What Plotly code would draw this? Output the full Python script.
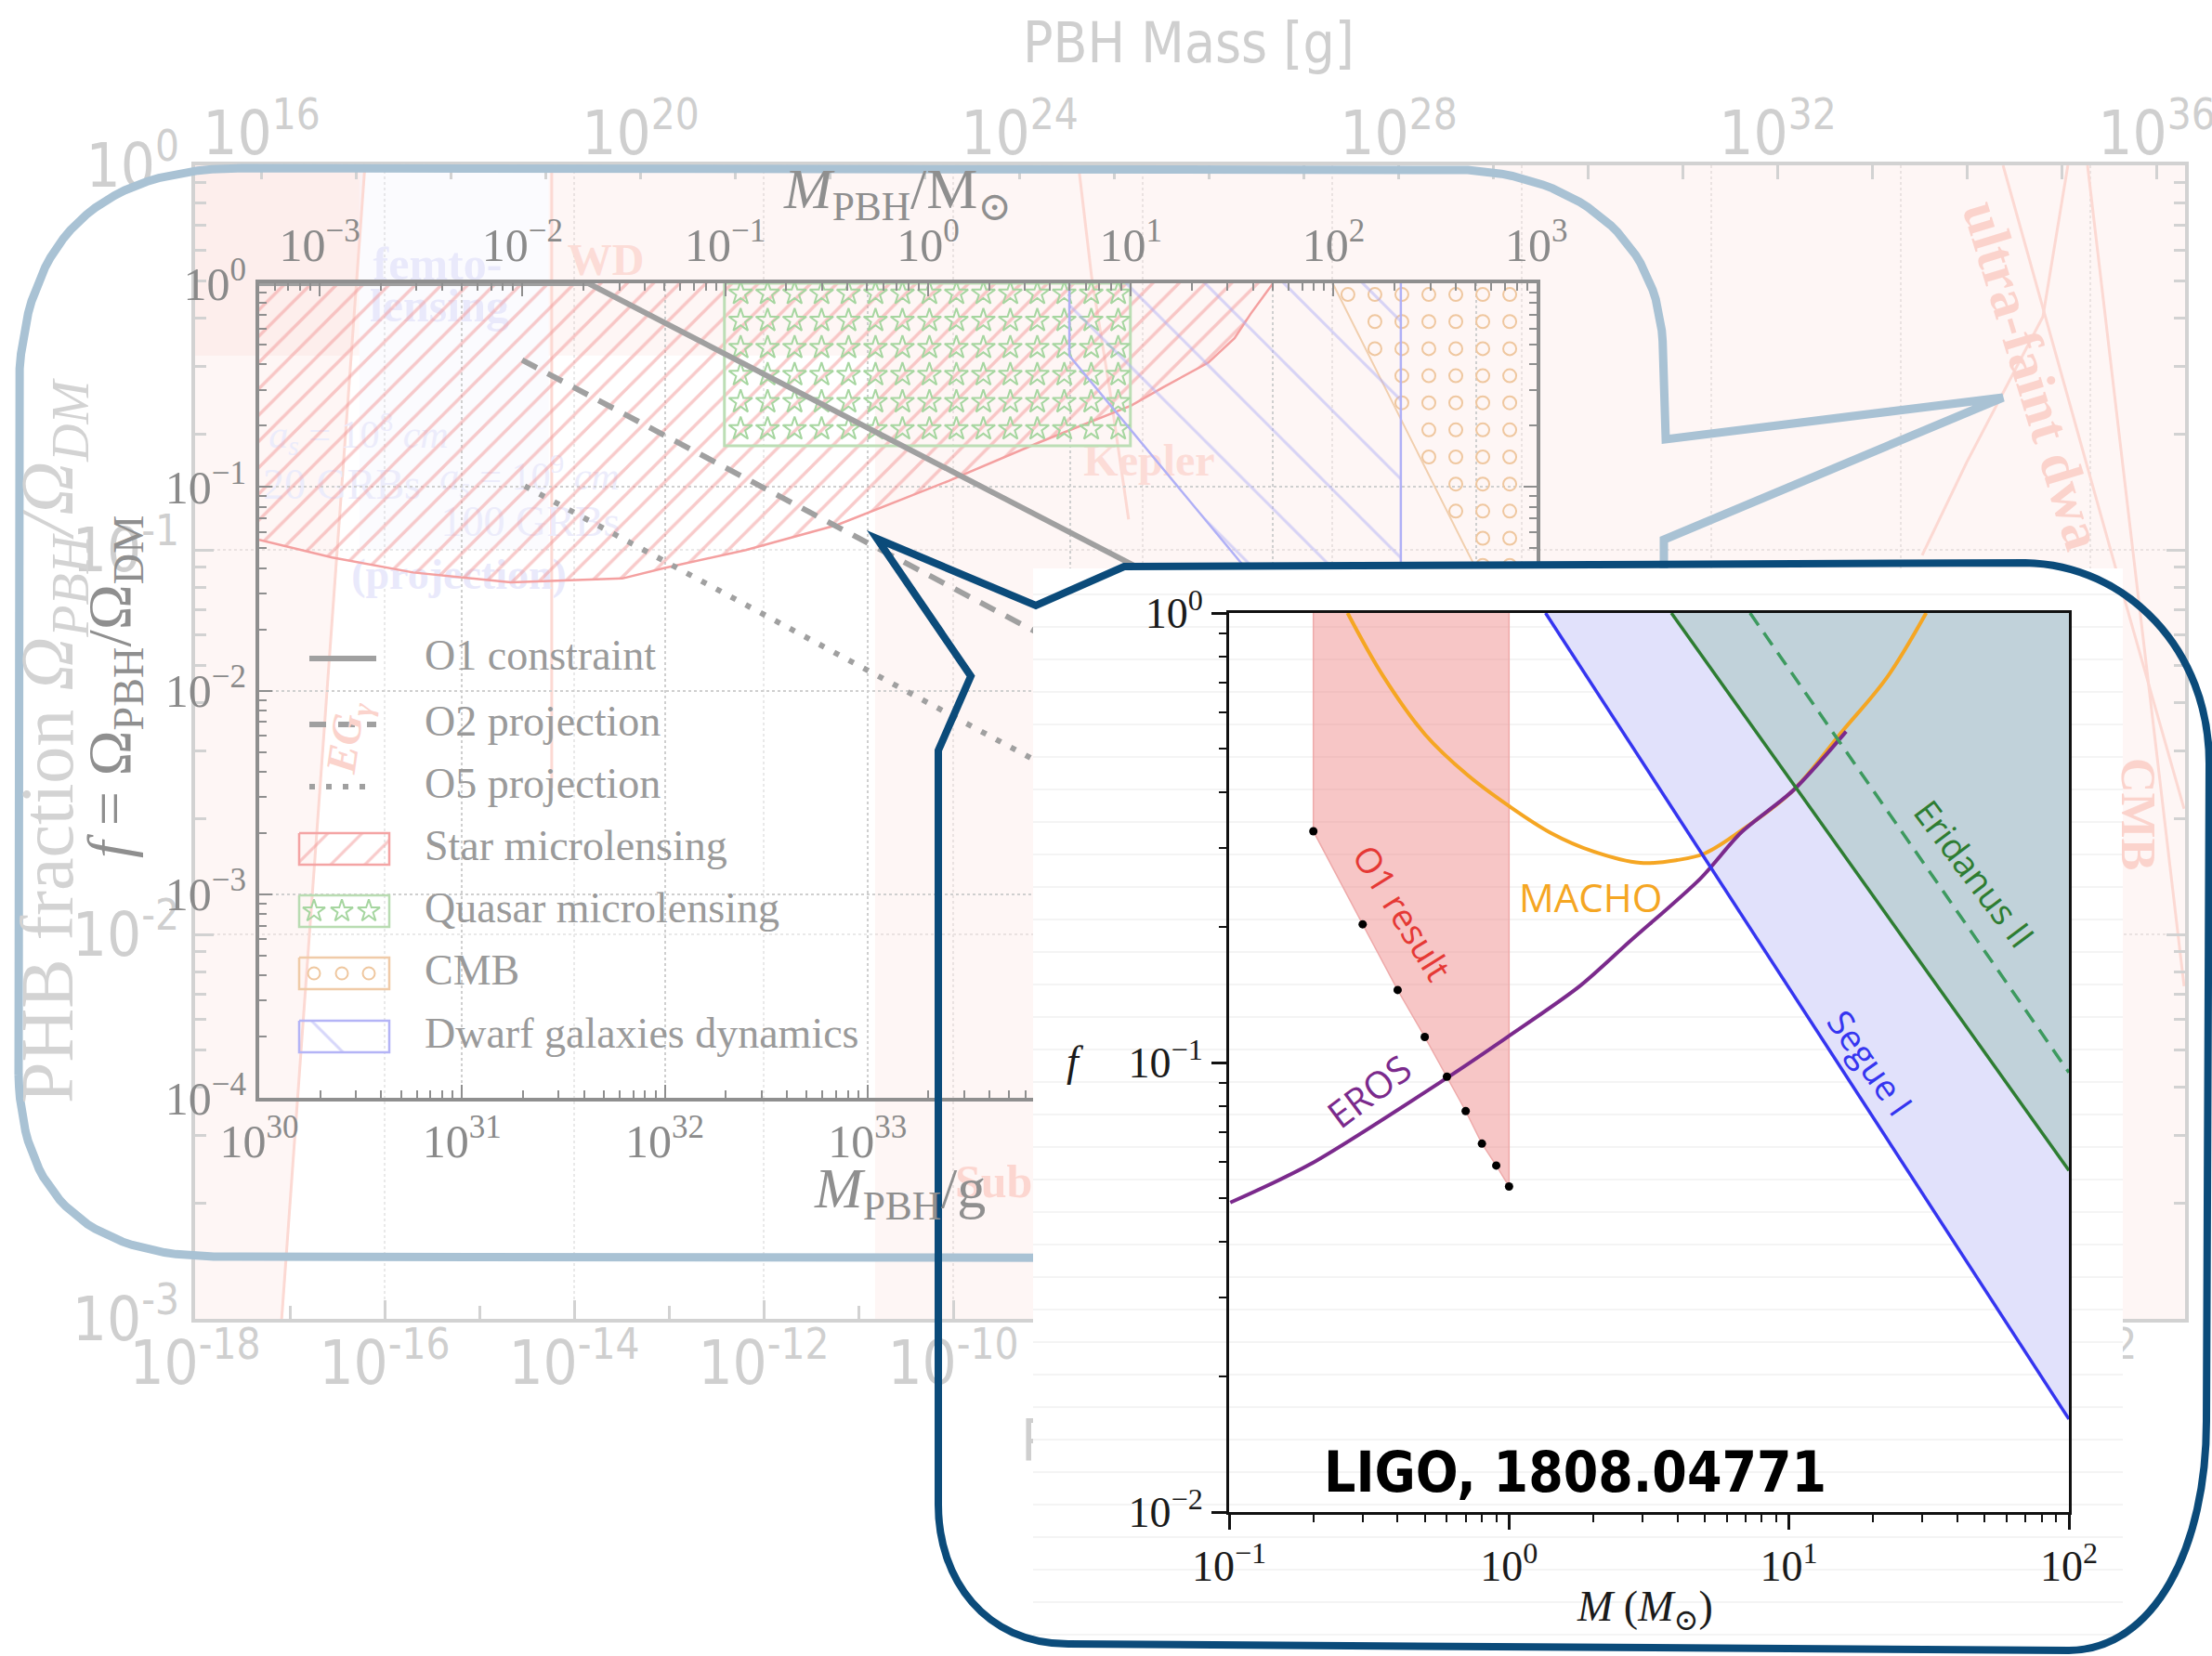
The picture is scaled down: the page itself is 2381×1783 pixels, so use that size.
import numpy as np
import plotly.graph_objects as go

W, H = 2381, 1783
LOG_MSUN_G = np.log10(1.989e33)

NARROW = "Liberation Sans Narrow, Arial Narrow, DejaVu Sans Condensed, sans-serif"
SERIF = "Liberation Serif, Times New Roman, DejaVu Serif, serif"
SANS = "Open Sans, DejaVu Sans, sans-serif"

# ================= background chart (PBH fraction vs PBH mass) =================
bg_mass_label_exp = [-18, -16, -14, -12, -10, -8, -6, -4, -2, 0, 2]
bg_mass_minor_exp = [-17, -15, -13, -11, -9, -7, -5, -3, -1, 1, 3]
bg_gram_tick_exp = list(range(16, 37))
bg_gram_label_exp = [16, 20, 24, 28, 32, 36]
bg_frac_exp = [-3, -2, -1, 0]

bg_pink_m = [1e-18, 5.4e-17, 5.4e-17, 5.4e-15, 5.4e-15, 1e3, 1e3, 1.5e-11, 1.5e-11, 1e-18]
bg_pink_f = [1.0, 1.0, 0.32, 0.32, 1.0, 1.0, 1e-3, 1e-3, 0.32, 0.32]
bg_femto_m = [5.4e-17, 5.4e-15, 5.4e-15, 5.4e-17]
bg_femto_f = [1.0, 1.0, 0.1, 0.1]
bg_egamma_m = [1e-18, 6.2e-17, 8.2e-18, 1e-18]
bg_egamma_f = [1.0, 1.0, 1e-3, 1e-3]
bg_wd_m = [5.8e-15, 5.8e-15]
bg_wd_f = [1.0, 0.024]
bg_kepler_m = [2.1e-9, 2.9e-9, 4.5e-9, 7.1e-9]
bg_kepler_f = [1.0, 0.51, 0.26, 0.12]
bg_ufd1_m = [12.0, 188.0, 977.0]
bg_ufd1_f = [1.0, 0.0885, 0.0212]
bg_ufd2_m = [58.0, 31.6, 4.97, 1.68]
bg_ufd2_f = [1.0, 0.404, 0.169, 0.0968]
bg_ufd3_m = [93.5, 977.0]
bg_ufd3_f = [1.0, 0.00733]

# ================= middle chart (LVK projections) =================
mid_gram_exp = list(range(30, 37))
mid_msun_exp = list(range(-3, 4))
mid_frac_exp = list(range(-4, 1))
star_lens_mass_g = [1e30, 2.29e30, 5.75e30, 1.74e31, 6.17e31, 1.0e32, 2.51e32, 7.08e32,
                    2.51e33, 7.08e33, 2.0e34, 2.88e34, 4.79e34, 6.46e34, 7.76e34, 1.0e35]
star_lens_f = [0.055, 0.045, 0.038, 0.034, 0.0355, 0.040, 0.049, 0.065,
               0.107, 0.166, 0.251, 0.309, 0.407, 0.537, 0.708, 1.0]
quasar_mass_g = [1.97e32, 1.98e34]
quasar_f = [0.159, 1.0]
cmb_mass_g = [1.97e35, 9.0e35, 2.0e36]
cmb_f = [1.0, 0.049, 0.0105]
dwarf_mass_g = [9.9e33, 9.9e33, 4.27e35, 4.27e35]
dwarf_f = [1.0, 0.44, 0.0048, 1.0]
o1_mass_g = [1.0e30, 4.2e31, 1.98e34, 1.3e35]
o1_f = [1.0, 1.0, 0.042, 0.016]
o2_mass_g = [1.98e31, 6.6e32, 1.0e35]
o2_f = [0.42, 0.066, 0.0047]
o5_mass_g = [2.04e31, 5.75e33, 1.0e35]
o5_f = [0.101, 0.0049, 0.00107]
legend_labels = ["O1 constraint", "O2 projection", "O5 projection", "Star microlensing",
                 "Quasar microlensing", "CMB", "Dwarf galaxies dynamics"]

# ================= front chart (LIGO, 1808.04771) =================
front_mass_exp = [-1, 0, 1, 2]
front_frac_exp = [-2, -1, 0]
o1_result_m = [0.2, 0.3, 0.4, 0.5, 0.6, 0.7, 0.8, 0.9, 1.0]
o1_result_f = [0.327, 0.203, 0.145, 0.114, 0.093, 0.078, 0.066, 0.059, 0.053]
macho_m = [0.265, 0.355, 0.501, 0.708, 1.0, 1.413, 1.995, 2.951, 3.981, 5.012, 7.079, 10.35, 15.49, 22.39, 30.9]
macho_f = [1.0, 0.724, 0.537, 0.437, 0.372, 0.324, 0.295, 0.278, 0.282, 0.292, 0.335, 0.403, 0.545, 0.719, 1.0]
eros_m = [0.101, 0.194, 0.598, 0.984, 1.782, 2.673, 4.82, 6.75, 10.35, 16.0]
eros_f = [0.0488, 0.0593, 0.0923, 0.1138, 0.1476, 0.1849, 0.2564, 0.325, 0.403, 0.545]
segue_m = [1.35, 4.9, 17.4, 100.0]
segue_f = [1.0, 0.29, 0.086, 0.0161]
eridanus_m = [3.8, 10.4, 100.0]
eridanus_f = [1.0, 0.415, 0.0575]
eridanus_dash_m = [7.26, 100.0]
eridanus_dash_f = [1.0, 0.095]


def fx(p):
    return p / W


def fy(p):
    return 1 - p / H


fig = go.Figure()


def add(xa, ya, **kw):
    kw.setdefault("hoverinfo", "skip")
    kw.setdefault("showlegend", False)
    fig.add_trace(go.Scatter(xaxis=xa, yaxis=ya, **kw))


def sup(e, minus="-"):
    return "10<sup>" + str(e).replace("-", minus) + "</sup>"


# ---------------- background traces (subplot x / y) ----------------
PINKFILL = "rgba(245,180,170,0.12)"
PINKLINE = "#fcd9d3"
add("x", "y", x=bg_pink_m, y=bg_pink_f, mode="none", fill="toself", fillcolor=PINKFILL)
add("x", "y", x=bg_femto_m, y=bg_femto_f, mode="none", fill="toself", fillcolor="rgba(215,215,250,0.10)")
add("x", "y", x=bg_egamma_m, y=bg_egamma_f, mode="none", fill="toself", fillcolor="rgba(245,170,160,0.10)")
for mm, ff in [(bg_egamma_m[1:3], bg_egamma_f[1:3]), (bg_wd_m, bg_wd_f), (bg_kepler_m, bg_kepler_f),
               (bg_ufd1_m, bg_ufd1_f), (bg_ufd2_m, bg_ufd2_f), (bg_ufd3_m, bg_ufd3_f)]:
    add("x", "y", x=mm, y=ff, mode="lines", line=dict(color=PINKLINE, width=3), cliponaxis=True)
add("x2", "y", x=[1e20], y=[0.5], mode="markers", marker=dict(opacity=0))


# ---------------- P0 : faint background labels (pixel overlay) ----------------
def ptext(xa, ya, txt, x, y, size, color, family=SERIF, weight="normal", pos="middle center"):
    add(xa, ya, x=[x], y=[y], mode="text", text=[txt], textposition=pos, cliponaxis=False,
        textfont=dict(size=size, color=color, family=family, weight=weight))


LAV = "#e9e9fb"
ptext("x3", "y2", "femto-", 471, 288, 50, LAV, weight="bold")
ptext("x3", "y2", "lensing", 473, 333, 50, LAV, weight="bold")
ptext("x3", "y2", "(projection)", 494, 622, 46, LAV, weight="bold")
ptext("x3", "y2", "<i>a<sub>s</sub></i> = 10<sup>8</sup> <i>cm</i>", 386, 471, 42, "#ececfb")
ptext("x3", "y2", "20 GRBs", 368, 525, 46, "#ececfb")
ptext("x3", "y2", "<i>a<sub>s</sub></i> = 10<sup>9</sup> <i>cm</i>", 570, 516, 42, "#ececfb")
ptext("x3", "y2", "100 GRBs", 571, 565, 46, "#ececfb")
ptext("x3", "y2", "WD", 652, 284, 48, "#fcdcd7", weight="bold")
ptext("x3", "y2", "Kepler", 1237, 500, 48, "#fcdcd7", weight="bold")
ptext("x3", "y2", "Subaru", 1028, 1276, 50, "#fcd6d0", weight="bold", pos="middle right")
ptext("x3", "y2", "PBH Mass [M<sub>⊙</sub>]", 1099, 1556, 62, "#cfcfcf", family=NARROW, pos="middle right")

# ---------------- middle chart traces (x4/y3) ----------------
RED_H = "#f29696"
GREEN_S = "#a6d6a0"
ORANGE_C = "#efc79f"
BLUE_H = "#b0b0f6"
GRAY_L = "#a0a0a0"
add("x4", "y3", x=star_lens_mass_g + [star_lens_mass_g[0]], y=star_lens_f + [1.0], mode="none",
    fill="toself", fillcolor="rgba(0,0,0,0)",
    fillpattern=dict(shape="/", fgcolor=RED_H, size=20, solidity=0.17, bgcolor="rgba(0,0,0,0)"))
add("x4", "y3", x=star_lens_mass_g, y=star_lens_f, mode="lines", line=dict(color="#f4a0a0", width=2.5))

# quasar box and star texture
qx = [quasar_mass_g[0], quasar_mass_g[1], quasar_mass_g[1], quasar_mass_g[0], quasar_mass_g[0]]
qy = [quasar_f[1], quasar_f[1], quasar_f[0], quasar_f[0], quasar_f[1]]
add("x4", "y3", x=qx, y=qy, mode="lines", line=dict(color="#bcdeb5", width=3))
step = 0.133
lxs = np.arange(np.log10(quasar_mass_g[0]) + 0.08, np.log10(quasar_mass_g[1]), step)
lys = np.arange(np.log10(quasar_f[1]) - 0.05, np.log10(quasar_f[0]), -step)
gx, gy = np.meshgrid(lxs, lys)
add("x4", "y3", x=10 ** gx.ravel(), y=10 ** gy.ravel(), mode="markers",
    marker=dict(symbol="star-open", size=19, color=GREEN_S, line=dict(width=2, color=GREEN_S)))

# CMB open circle texture
lcx = np.arange(np.log10(cmb_mass_g[0]) + 0.075, 36.28, step)
lcy = np.arange(-0.055, -4.0, -step)
cx, cy = np.meshgrid(lcx, lcy)
cx, cy = cx.ravel(), cy.ravel()
bound = np.interp(-cy, -np.log10(cmb_f), np.log10(cmb_mass_g))
keep = cx >= bound + 0.04
add("x4", "y3", x=10 ** cx[keep], y=10 ** cy[keep], mode="markers",
    marker=dict(symbol="circle-open", size=14, color=ORANGE_C, line=dict(width=2, color=ORANGE_C)))
add("x4", "y3", x=cmb_mass_g, y=cmb_f, mode="lines", line=dict(color="#f1cfae", width=2))

# dwarf galaxies hatch
add("x4", "y3", x=dwarf_mass_g + [dwarf_mass_g[0]], y=dwarf_f + [dwarf_f[0]], mode="none",
    fill="toself", fillcolor="rgba(0,0,0,0)",
    fillpattern=dict(shape="\\", fgcolor=BLUE_H, size=60, solidity=0.05, bgcolor="rgba(0,0,0,0)"))
add("x4", "y3", x=dwarf_mass_g, y=dwarf_f, mode="lines", line=dict(color=BLUE_H, width=2.5))

# LVK lines
add("x4", "y3", x=o1_mass_g, y=o1_f, mode="lines", line=dict(color=GRAY_L, width=6))
add("x4", "y3", x=o2_mass_g, y=o2_f, mode="lines", line=dict(color=GRAY_L, width=6, dash="18px,13px"))
add("x4", "y3", x=o5_mass_g, y=o5_f, mode="lines", line=dict(color=GRAY_L, width=6, dash="6px,12px"))
add("x5", "y3", x=[1.0], y=[0.5], mode="markers", marker=dict(opacity=0))


# ---------------- P1 : light-blue bubble + middle legend (x6/y4) ----------------
def cubic(p0, c1, c2, p3, n=30):
    t = np.linspace(0, 1, n)[:, None]
    p0, c1, c2, p3 = map(np.array, (p0, c1, c2, p3))
    return (1 - t) ** 3 * p0 + 3 * (1 - t) ** 2 * t * c1 + 3 * (1 - t) * t ** 2 * c2 + t ** 3 * p3


def quad(p0, c, p2, n=30):
    p0, c, p2 = map(np.array, (p0, c, p2))
    return cubic(p0, p0 + 2 / 3 * (c - p0), p2 + 2 / 3 * (c - p2), p2, n)


seg = [np.array([[20, 1157], [20, 430]]),
       quad((20, 430), (20, 181), (260, 181)),
       np.array([[260, 181], [1580, 183]]),
       cubic((1580, 183), (1700, 190), (1790, 260), (1790, 380)),
       np.array([[1790, 380], [1793, 473], [2156, 428], [1791, 581], [1791, 1300]]),
       quad((1791, 1300), (1791, 1355), (1700, 1355)),
       np.array([[1700, 1355], [230, 1353]]),
       quad((230, 1353), (24, 1350), (20, 1157))]
bub = np.vstack(seg)
add("x6", "y4", x=bub[:, 0], y=bub[:, 1], mode="lines", line=dict(color="#a9c2d4", width=9))

leg_y = [709, 780, 847, 914, 981, 1048, 1116]
add("x6", "y4", x=[333, 405], y=[leg_y[0]] * 2, mode="lines", line=dict(color=GRAY_L, width=6))
add("x6", "y4", x=[333, 405], y=[leg_y[1]] * 2, mode="lines", line=dict(color=GRAY_L, width=6, dash="18px,13px"))
add("x6", "y4", x=[333, 405], y=[leg_y[2]] * 2, mode="lines", line=dict(color=GRAY_L, width=6, dash="6px,12px"))
patch_cols = ["#f4a4a4", "#b9dcb2", "#f0cba8", "#b4b4f6"]
for k, col in enumerate(patch_cols):
    yc = leg_y[3 + k]
    rx = [322, 419, 419, 322, 322]
    ry = [yc - 17, yc - 17, yc + 17, yc + 17, yc - 17]
    pat = None
    if k == 0:
        pat = dict(shape="/", fgcolor=RED_H, size=26, solidity=0.12, bgcolor="rgba(0,0,0,0)")
    if k == 3:
        pat = dict(shape="\\", fgcolor=BLUE_H, size=60, solidity=0.05, bgcolor="rgba(0,0,0,0)")
    if pat:
        add("x6", "y4", x=rx, y=ry, mode="none", fill="toself", fillcolor="rgba(0,0,0,0)", fillpattern=pat)
    add("x6", "y4", x=rx, y=ry, mode="lines", line=dict(color=col, width=2.5))
add("x6", "y4", x=[338, 368, 397], y=[leg_y[4]] * 3, mode="markers",
    marker=dict(symbol="star-open", size=18, color=GREEN_S, line=dict(width=2, color=GREEN_S)))
add("x6", "y4", x=[338, 368, 397], y=[leg_y[5]] * 3, mode="markers",
    marker=dict(symbol="circle-open", size=13, color=ORANGE_C, line=dict(width=2, color=ORANGE_C)))
for lab, yc in zip(legend_labels, leg_y):
    ptext("x6", "y4", lab, 457, yc, 46, "#9a9a9a", pos="middle right")

# ---------------- P2 : white panel of the front chart (x7/y5) ----------------
add("x7", "y5", x=[1112, 2285, 2285, 1112, 1112], y=[612, 612, 1790, 1790, 612], mode="none",
    fill="toself", fillcolor="white")
hx, hy = [], []
for yy in np.arange(640, 1783, 35):
    hx += [1112, 2285, None]
    hy += [yy, yy, None]
add("x7", "y5", x=hx, y=hy, mode="lines", line=dict(color="#f4f4f4", width=2))

# ---------------- front chart (x8/y6) ----------------
add("x8", "y6", x=segue_m + [segue_m[-1]], y=segue_f + [segue_f[0]], mode="none", fill="toself", fillcolor="#e1e1fb")
add("x8", "y6", x=eridanus_m + [eridanus_m[-1]], y=eridanus_f + [eridanus_f[0]], mode="none", fill="toself", fillcolor="#c1d2da")
add("x8", "y6", x=[o1_result_m[0]] + o1_result_m + [o1_result_m[-1]], y=[1.0] + o1_result_f + [1.0],
    mode="lines", fill="toself", fillcolor="rgba(236,120,120,0.42)", line=dict(color="#eeaaaa", width=1.5))
add("x8", "y6", x=macho_m, y=macho_f, mode="lines", line=dict(color="#f5a623", width=4, shape="spline", smoothing=1.0))
add("x8", "y6", x=eros_m, y=eros_f, mode="lines", line=dict(color="#7b2a8c", width=4, shape="spline", smoothing=0.8))
add("x8", "y6", x=segue_m, y=segue_f, mode="lines", line=dict(color="#3535f0", width=3.5))
add("x8", "y6", x=eridanus_m, y=eridanus_f, mode="lines", line=dict(color="#2e7d32", width=3.5))
add("x8", "y6", x=eridanus_dash_m, y=eridanus_dash_f, mode="lines",
    line=dict(color="#3d9a5f", width=3.5, dash="16px,10px"))
add("x8", "y6", x=o1_result_m, y=o1_result_f, mode="markers", marker=dict(color="black", size=9), cliponaxis=False)

# ---------------- axes ----------------
pix_x = dict(domain=[0, 1], range=[0, W], visible=False, fixedrange=True, automargin=False)
pix_y = dict(domain=[0, 1], range=[H, 0], visible=False, fixedrange=True, automargin=False)
BGC = "#d2d2d2"
bg_font = dict(family=NARROW, size=65, color="#cfcfcf")
MIDC = "#8f8f8f"
mid_font = dict(family=SERIF, size=50, color="#8a8a8a")
front_font = dict(family=SERIF, size=46, color="#1a1a1a")


def minor_vals(exps):
    return [k * 10.0 ** e for e in exps for k in range(2, 10)]


layout = dict(
    width=W, height=H, margin=dict(l=0, r=0, t=0, b=0, pad=0, autoexpand=False),
    paper_bgcolor="white", plot_bgcolor="rgba(0,0,0,0)", showlegend=False,
    xaxis=dict(domain=[fx(210), fx(2352)], anchor="y", type="log", range=[-18, 3],
               tickmode="array", tickvals=[10.0 ** e for e in bg_mass_label_exp],
               ticktext=[sup(e) for e in bg_mass_label_exp], ticks="inside", ticklen=20, tickwidth=3,
               tickcolor=BGC, minor=dict(tickmode="array", tickvals=[10.0 ** e for e in bg_mass_minor_exp],
                                         ticks="inside", ticklen=14, tickwidth=3, tickcolor=BGC, showgrid=False),
               showline=True, linecolor=BGC, linewidth=4, showgrid=True, gridcolor="#e9e9e9",
               griddash="dot", gridwidth=2, tickfont=bg_font, zeroline=False, fixedrange=True,
               automargin=False, ticklabelstandoff=-12, ticklabeloverflow="allow"),
    xaxis2=dict(overlaying="x", side="top", anchor="y", type="log",
                range=[-18 + LOG_MSUN_G, 3 + LOG_MSUN_G], tickmode="array",
                tickvals=[10.0 ** e for e in bg_gram_tick_exp],
                ticktext=[sup(e) if e in bg_gram_label_exp else "" for e in bg_gram_tick_exp],
                ticks="inside", ticklen=15, tickwidth=3, tickcolor=BGC, showline=True, linecolor=BGC,
                linewidth=4, showgrid=False, tickfont=bg_font, fixedrange=True, automargin=False,
                ticklabelstandoff=-18, ticklabeloverflow="allow"),
    yaxis=dict(domain=[fy(1420), fy(178)], anchor="x", type="log", range=[-3, 0], tickmode="array",
               tickvals=[10.0 ** e for e in bg_frac_exp], ticktext=[sup(e) for e in bg_frac_exp],
               ticks="inside", ticklen=20, tickwidth=3, tickcolor=BGC,
               minor=dict(tickmode="array", tickvals=minor_vals(range(-3, 0)), ticks="inside", ticklen=12,
                          tickwidth=3, tickcolor=BGC, showgrid=False),
               showline=True, linecolor=BGC, linewidth=4, mirror="ticks", showgrid=True,
               gridcolor="#e9e9e9", griddash="dot", gridwidth=2, tickfont=bg_font, zeroline=False,
               fixedrange=True, automargin=False, ticklabeloverflow="allow"),
    xaxis3=dict(pix_x, anchor="y2"), yaxis2=dict(pix_y, anchor="x3"),
    xaxis4=dict(domain=[fx(279), fx(1654)], anchor="y3", type="log", range=[30, 36.3], tickmode="array",
                tickvals=[10.0 ** e for e in mid_gram_exp], ticktext=[sup(e) for e in mid_gram_exp],
                ticks="inside", ticklen=14, tickwidth=2, tickcolor=MIDC,
                minor=dict(tickmode="array", tickvals=minor_vals(range(30, 36)), ticks="inside", ticklen=8,
                           tickwidth=2, tickcolor=MIDC, showgrid=False),
                showline=True, linecolor=MIDC, linewidth=4, mirror=True, showgrid=True, gridcolor="#cfcfcf",
                griddash="dot", gridwidth=2, tickfont=mid_font, zeroline=False, fixedrange=True,
                automargin=False),
    xaxis5=dict(overlaying="x4", side="top", anchor="y3", type="log",
                range=[30 - LOG_MSUN_G, 36.3 - LOG_MSUN_G], tickmode="array",
                tickvals=[10.0 ** e for e in mid_msun_exp], ticktext=[sup(e, "−") for e in mid_msun_exp],
                ticks="inside", ticklen=14, tickwidth=2, tickcolor=MIDC,
                minor=dict(tickmode="array", tickvals=minor_vals(range(-4, 3)), ticks="inside", ticklen=8,
                           tickwidth=2, tickcolor=MIDC, showgrid=False),
                showline=True, linecolor=MIDC, linewidth=4, showgrid=False, tickfont=mid_font,
                fixedrange=True, automargin=False),
    yaxis3=dict(domain=[fy(1182), fy(305)], anchor="x4", type="log", range=[-4, 0], tickmode="array",
                tickvals=[10.0 ** e for e in mid_frac_exp], ticktext=[sup(e, "−") for e in mid_frac_exp],
                ticks="inside", ticklen=14, tickwidth=2, tickcolor=MIDC,
                minor=dict(tickmode="array", tickvals=minor_vals(range(-4, 0)), ticks="inside", ticklen=8,
                           tickwidth=2, tickcolor=MIDC, showgrid=False),
                showline=True, linecolor=MIDC, linewidth=4, mirror="ticks", showgrid=True,
                gridcolor="#cfcfcf", griddash="dot", gridwidth=2, tickfont=mid_font, zeroline=False,
                fixedrange=True, automargin=False),
    xaxis6=dict(pix_x, anchor="y4"), yaxis4=dict(pix_y, anchor="x6"),
    xaxis7=dict(pix_x, anchor="y5"), yaxis5=dict(pix_y, anchor="x7"),
    xaxis8=dict(domain=[fx(1323), fx(2227)], anchor="y6", type="log", range=[-1, 2], tickmode="array",
                tickvals=[10.0 ** e for e in front_mass_exp], ticktext=[sup(e, "−") for e in front_mass_exp],
                ticks="outside", ticklen=16, tickwidth=2.5, tickcolor="#111",
                minor=dict(tickmode="array", tickvals=minor_vals(range(-1, 2)), ticks="outside", ticklen=8,
                           tickwidth=2, tickcolor="#111", showgrid=False),
                showline=True, linecolor="#111", linewidth=3, mirror=True, showgrid=False,
                tickfont=front_font, zeroline=False, fixedrange=True, automargin=False),
    yaxis6=dict(domain=[fy(1628), fy(660)], anchor="x8", type="log", range=[-2, 0], tickmode="array",
                tickvals=[10.0 ** e for e in front_frac_exp], ticktext=[sup(e, "−") for e in front_frac_exp],
                ticks="outside", ticklen=16, tickwidth=2.5, tickcolor="#111",
                minor=dict(tickmode="array", tickvals=minor_vals(range(-2, 0)), ticks="outside", ticklen=8,
                           tickwidth=2, tickcolor="#111", showgrid=False),
                showline=True, linecolor="#111", linewidth=3, mirror=True, showgrid=False,
                tickfont=front_font, zeroline=False, fixedrange=True, automargin=False),
)
fig.update_layout(**layout)


# ---------------- annotations ----------------
def ann(text, x, y, size, color, family=SERIF, angle=0, xanchor="center", weight="normal"):
    fig.add_annotation(text=text, x=fx(x), y=fy(y), xref="paper", yref="paper", showarrow=False,
                       textangle=angle, xanchor=xanchor, yanchor="middle",
                       font=dict(size=size, color=color, family=family, weight=weight))


ann("PBH Mass [g]", 1279, 46, 60, "#cfcfcf", family=NARROW)
ann("PHB fraction <i>Ω<sub>PBH</sub>/Ω<sub>DM</sub></i>", 57, 797, 80, "#d3d3d3", angle=-90)
ann("ultra-faint dwa", 2188, 404, 60, "#fbd3cc", angle=73, weight="bold")
ann("CMB", 2302, 876, 52, "#fbd3cc", angle=90, weight="bold")
ann("<i>EG<sub>γ</sub></i>", 375, 795, 46, "#fbd3cc", angle=-82, weight="bold")

ann("<i>f</i> = Ω<sub>PBH</sub>/Ω<sub>DM</sub>", 122, 740, 66, MIDC, angle=-90)
ann("<i>M</i><sub>PBH</sub>/M<sub>⊙</sub>", 966, 207, 62, MIDC)
ann("<i>M</i><sub>PBH</sub>/g", 968, 1283, 62, MIDC)

ann("<i>f</i>", 1157, 1142, 46, "#1a1a1a")
ann("<i>M</i> (<i>M</i><sub>⊙</sub>)", 1770, 1733, 46, "#1a1a1a")
ann("LIGO, 1808.04771", 1695, 1585, 60, "black", family=NARROW, weight="bold")
ann("O1 result", 1510, 982, 38, "#e53935", family=SANS, angle=58)
ann("MACHO", 1712, 965, 42, "#f5a623", family=SANS)
ann("EROS", 1473, 1174, 40, "#7b2a8c", family=SANS, angle=-37)
ann("Segue I", 2014, 1144, 38, "#3535f0", family=SANS, angle=55)
ann("Eridanus II", 2126, 940, 38, "#2e7d32", family=SANS, angle=53)


# ---------------- dark-blue speech bubble (on top) ----------------
def P(x, y):
    return f"{x / W:.5f},{1 - y / H:.5f}"


path = ("M " + P(944, 580) + " L " + P(1115, 652) + " L " + P(1210, 610) + " L " + P(2180, 606)
        + " C " + P(2290, 608) + " " + P(2378, 700) + " " + P(2378, 822)
        + " L " + P(2375, 1530)
        + " C " + P(2375, 1665) + " " + P(2320, 1776) + " " + P(2227, 1777)
        + " L " + P(1150, 1770)
        + " C " + P(1060, 1770) + " " + P(1010, 1700) + " " + P(1010, 1620)
        + " L " + P(1010, 808) + " L " + P(1045, 728) + " Z")
fig.add_shape(type="path", path=path, xref="paper", yref="paper", layer="above",
              line=dict(color="#0b4b7a", width=8), fillcolor="rgba(0,0,0,0)")

fig.write_html("out.html", config={"displayModeBar": False},
               post_script="document.body.style.margin='0';document.body.style.overflow='hidden';")
